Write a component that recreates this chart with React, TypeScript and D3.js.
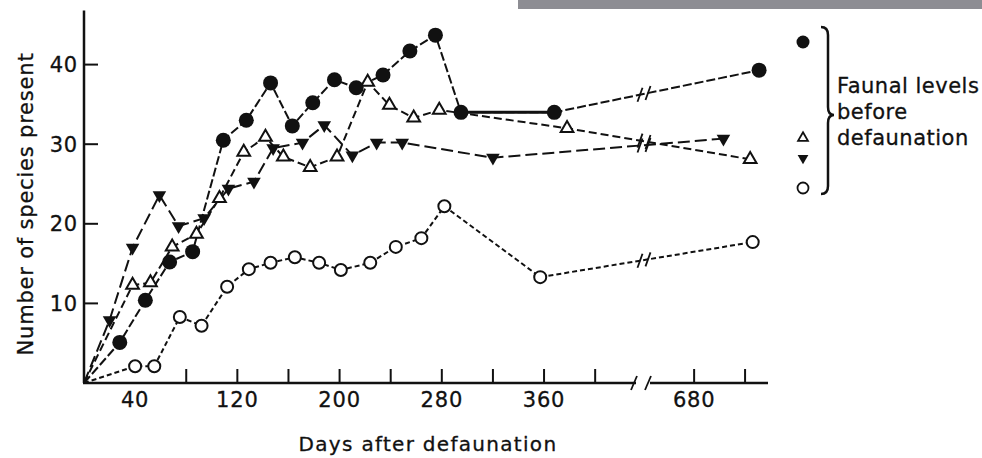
import React from 'react';
import * as d3 from 'd3';

// Species counts after defaunation, four islands
const filledCircleDays = [0, 28, 48, 67, 85, 109, 127, 146, 163, 179, 196, 213, 234, 255, 275, 295, 368, 731];
const filledCircleSpecies = [0, 5.1, 10.4, 15.2, 16.5, 30.5, 33.0, 37.7, 32.3, 35.2, 38.1, 37.1, 38.7, 41.7, 43.7, 34.0, 34.0, 39.3];

const openTriangleDays = [0, 38, 52, 69, 88, 106, 125, 142, 156, 177, 198, 222, 239, 258, 278, 378, 724];
const openTriangleSpecies = [0, 12.3, 12.6, 17.1, 18.7, 23.2, 29.0, 30.9, 28.4, 27.1, 28.4, 37.8, 34.9, 33.3, 34.3, 32.0, 28.1];

const filledTriangleDays = [0, 20, 38, 59, 74, 94, 113, 133, 148, 171, 188, 210, 229, 249, 320, 703];
const filledTriangleSpecies = [0, 7.9, 17.0, 23.6, 19.7, 20.7, 24.4, 25.3, 29.5, 30.2, 32.4, 28.6, 30.2, 30.2, 28.3, 30.7];

const openCircleDays = [0, 40, 55, 75, 92, 112, 129, 146, 165, 184, 201, 224, 244, 264, 282, 357, 726];
const openCircleSpecies = [0, 2.1, 2.1, 8.3, 7.2, 12.1, 14.3, 15.1, 15.8, 15.1, 14.2, 15.1, 17.1, 18.2, 22.2, 13.3, 17.7];

const xTickDays = [80, 120, 160, 200, 240, 280, 320, 360, 400, 680, 720];
const xLabelDays = [40, 120, 200, 280, 360, 680];
const yTickValues = [10, 20, 30, 40];

const legendLines = ['Faunal levels', 'before', 'defaunation'];

const W = 982;
const H = 458;
const FONT = '"DejaVu Sans", Verdana, sans-serif';

// Broken time axis: early period, then a short late window
const BREAK_START = 430;
const BREAK_END = 643;
const xMain = d3.scaleLinear().domain([0, BREAK_START]).range([84, 633.5]);
const xTail = d3.scaleLinear().domain([BREAK_END, 738]).range([647, 768]);
const xPos = (d: number) => (d <= BREAK_START ? xMain(d) : xTail(d));
const y = d3.scaleLinear().domain([0, 40]).range([383, 64.6]);

type Pt = [number, number];
const zip = (xs: number[], ys: number[]): Pt[] => xs.map((d, i) => [d, ys[i]]);

const line = d3
  .line<Pt>()
  .x((p) => xPos(p[0]))
  .y((p) => y(p[1]));

// Little "//" marks where a series crosses the axis break
function BreakMarks({ pts }: { pts: Pt[] }) {
  const out: React.ReactNode[] = [];
  for (let i = 1; i < pts.length; i++) {
    const a = pts[i - 1];
    const b = pts[i];
    if (a[0] <= BREAK_START && b[0] >= BREAK_END) {
      const x0 = xPos(a[0]);
      const y0 = y(a[1]);
      const x1 = xPos(b[0]);
      const y1 = y(b[1]);
      [640, 648].forEach((mx, k) => {
        const t = (mx - x0) / (x1 - x0);
        const my = y0 + t * (y1 - y0);
        out.push(
          <line
            key={`${i}-${k}`}
            x1={mx - 2.5}
            y1={my + 7}
            x2={mx + 2.5}
            y2={my - 7}
            stroke="#111"
            strokeWidth={1.8}
          />
        );
      });
    }
  }
  return <g>{out}</g>;
}

const triUp = d3.symbol().type(d3.symbolTriangle).size(70)() as string;
const triUpSmall = d3.symbol().type(d3.symbolTriangle).size(42)() as string;
const triDown = d3.symbol().type(d3.symbolTriangle).size(80)() as string;
const triDownSmall = d3.symbol().type(d3.symbolTriangle).size(50)() as string;

export default function App() {
  const fc = zip(filledCircleDays, filledCircleSpecies);
  const ot = zip(openTriangleDays, openTriangleSpecies);
  const ft = zip(filledTriangleDays, filledTriangleSpecies);
  const oc = zip(openCircleDays, openCircleSpecies);

  // segment between the two equal counts drawn as a solid bar
  const solidIdx = filledCircleDays.indexOf(295);
  const fcSolid = fc.slice(solidIdx, solidIdx + 2);

  const axisY = y(0);

  return (
    <svg
      width={W}
      height={H}
      viewBox={`0 0 ${W} ${H}`}
      style={{ position: 'absolute', left: 0, top: 0, background: '#fff' }}
      fontFamily={FONT}
    >
      <rect x={0} y={0} width={W} height={H} fill="#fff" />
      <rect x={518} y={0} width={464} height={9} fill="#8d8d93" />

      {/* axes */}
      <g stroke="#111" strokeWidth={2.5} fill="none">
        <line x1={84} y1={y(46.8)} x2={84} y2={axisY} />
        <line x1={83} y1={axisY} x2={636} y2={axisY} />
        <line x1={650} y1={axisY} x2={768} y2={axisY} />
      </g>
      <g stroke="#111" strokeWidth={1.8}>
        <line x1={631} y1={axisY + 7} x2={637} y2={axisY - 7} />
        <line x1={645} y1={axisY + 7} x2={651} y2={axisY - 7} />
      </g>
      <g stroke="#111" strokeWidth={2}>
        {xTickDays.map((d) => (
          <line key={d} x1={xPos(d)} x2={xPos(d)} y1={axisY} y2={axisY - 14} />
        ))}
        {yTickValues.map((v) => (
          <line key={v} x1={84} x2={98} y1={y(v)} y2={y(v)} />
        ))}
      </g>
      <g fontSize={21} fill="#111" letterSpacing={0.8} stroke="#111" strokeWidth={0.3}>
        {xLabelDays.map((d) => (
          <text key={d} x={xPos(d)} y={407} textAnchor="middle">
            {d}
          </text>
        ))}
        {yTickValues.map((v) => (
          <text key={v} x={78} y={y(v) + 7.5} textAnchor="end">
            {v}
          </text>
        ))}
      </g>
      <text x={428} y={451} textAnchor="middle" fontSize={20} letterSpacing={1.3} fill="#111" stroke="#111" strokeWidth={0.3}>
        Days after defaunation
      </text>
      <text
        transform={`translate(33,204) rotate(-90)`}
        textAnchor="middle"
        fontSize={21}
        letterSpacing={0.8}
        fill="#111"
        stroke="#111"
        strokeWidth={0.3}
      >
        Number of species present
      </text>

      {/* series lines */}
      <g fill="none" stroke="#111" strokeWidth={2}>
        <path d={line(oc) as string} strokeDasharray="5 3" />
        <path d={line(ft) as string} strokeDasharray="12 5" />
        <path d={line(ot) as string} strokeDasharray="8 4" />
        <path d={line(fc) as string} strokeDasharray="9 3" />
        <path d={line(fcSolid) as string} strokeWidth={3} />
      </g>
      <BreakMarks pts={oc} />
      <BreakMarks pts={ft} />
      <BreakMarks pts={ot} />
      <BreakMarks pts={fc} />

      {/* markers */}
      <g>
        {oc.slice(1).map((p, i) => (
          <circle key={i} cx={xPos(p[0])} cy={y(p[1])} r={6} fill="#fff" stroke="#111" strokeWidth={2} />
        ))}
        {ft.slice(1).map((p, i) => (
          <path
            key={i}
            d={triDown}
            transform={`translate(${xPos(p[0])},${y(p[1])}) rotate(180)`}
            fill="#111"
          />
        ))}
        {ot.slice(1).map((p, i) => (
          <path
            key={i}
            d={triUp}
            transform={`translate(${xPos(p[0])},${y(p[1])})`}
            fill="#fff"
            stroke="#111"
            strokeWidth={2}
          />
        ))}
        {fc.slice(1).map((p, i) => (
          <circle key={i} cx={xPos(p[0])} cy={y(p[1])} r={7.5} fill="#111" />
        ))}
      </g>

      {/* legend */}
      <g>
        <circle cx={803} cy={42} r={6.5} fill="#111" />
        <path d={triUpSmall} transform="translate(803,138)" fill="#fff" stroke="#111" strokeWidth={1.8} />
        <path d={triDownSmall} transform="translate(803,158) rotate(180)" fill="#111" />
        <circle cx={803} cy={188} r={5.5} fill="#fff" stroke="#111" strokeWidth={1.8} />
        <path
          d="M821,27 Q828,27 828,35 L828,107 Q828,115 834,115 Q828,115 828,123 L828,186 Q828,194 821,194"
          fill="none"
          stroke="#111"
          strokeWidth={2.5}
        />
        {legendLines.map((t, i) => (
          <text key={t} x={837} y={93 + i * 26} fontSize={21} letterSpacing={0.5} fill="#111" stroke="#111" strokeWidth={0.3}>
            {t}
          </text>
        ))}
      </g>
    </svg>
  );
}
